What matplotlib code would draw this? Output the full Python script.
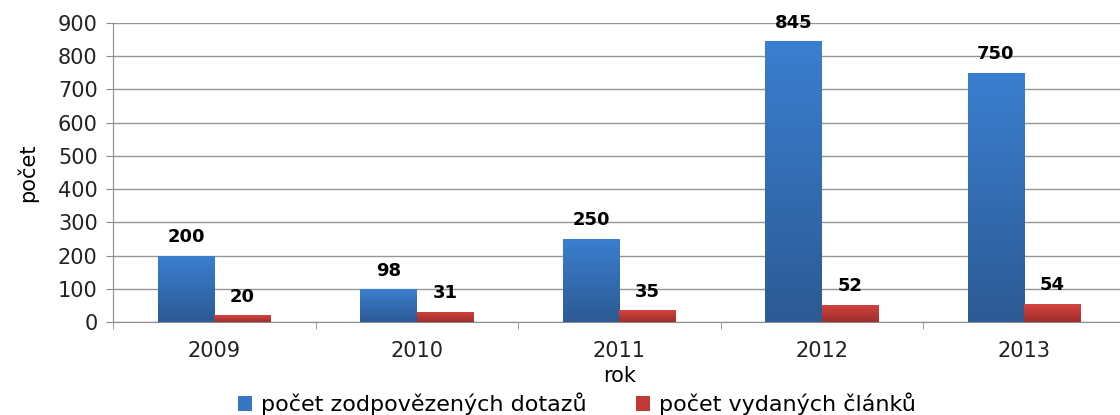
import numpy as np
import matplotlib.pyplot as plt
from matplotlib.colors import LinearSegmentedColormap
from matplotlib.patches import Patch

years = ['2009', '2010', '2011', '2012', '2013']
dotazy = [200, 98, 250, 845, 750]
clanky = [20, 31, 35, 52, 54]
legend_labels = ['počet zodpovězených dotazů', 'počet vydaných článků']

blue_cmap = LinearSegmentedColormap.from_list('b', ['#2c5a94', '#3b7fd0'])
red_cmap = LinearSegmentedColormap.from_list('r', ['#9e2f2c', '#d4433f'])

plt.rcParams['font.family'] = ['DejaVu Sans']

fig = plt.figure(figsize=(11.2, 4.15), dpi=100)
ax = fig.add_axes([113 / 1120, 93 / 415, 1012.5 / 1120, 299 / 415])

x = np.arange(len(years))
w = 0.28
grad = np.linspace(0, 1, 256).reshape(-1, 1)


def gradient_bars(xs, vals, cmap, color):
    bars = ax.bar(xs, vals, w, color=color, zorder=3)
    for b in bars:
        b.set_facecolor('none')
        x0, y0 = b.get_x(), b.get_y()
        im = ax.imshow(grad, cmap=cmap, origin='lower', aspect='auto',
                       extent=[x0, x0 + b.get_width(), y0, y0 + b.get_height()],
                       zorder=3)
        im.set_clip_path(b)
    return bars


b1 = gradient_bars(x - w / 2, dotazy, blue_cmap, '#3676c2')
b2 = gradient_bars(x + w / 2, clanky, red_cmap, '#c03b38')

for xs, vals in ((x - w / 2, dotazy), (x + w / 2, clanky)):
    for xi, v in zip(xs, vals):
        ax.annotate(str(v), (xi, v), xytext=(0, 7), textcoords='offset points',
                    ha='center', va='bottom', fontsize=13, fontweight='bold')

ax.set_xlim(-0.5, len(years) - 0.5)
ax.set_ylim(0, 900)
ax.set_yticks(range(0, 901, 100))
ax.set_xticks(x)
ax.set_xticklabels(years)
ax.set_xticks(np.arange(-0.5, len(years), 1), minor=True)
ax.tick_params(axis='x', which='major', length=0, pad=14, labelsize=15, colors='#222222')
ax.tick_params(axis='x', which='minor', length=5, color='#8c8c8c')
ax.tick_params(axis='y', length=5, color='#8c8c8c', labelsize=15, pad=6,
               labelcolor='#222222')

ax.grid(axis='y', color='#959595', linewidth=1, zorder=0)
ax.set_axisbelow(True)
for s in ('top', 'right'):
    ax.spines[s].set_visible(False)
for s in ('left', 'bottom'):
    ax.spines[s].set_color('#8c8c8c')

ax.set_xlabel('rok', fontsize=15, labelpad=3)
ax.set_ylabel('počet', fontsize=15, labelpad=14)

handles = [Patch(facecolor='#3676c2'), Patch(facecolor='#c03b38')]
fig.legend(handles, legend_labels, loc='center', bbox_to_anchor=(0.515, 0.027),
           ncol=2, frameon=False, fontsize=16, handlelength=0.65, handleheight=0.65,
           columnspacing=2.2, handletextpad=0.4, borderpad=0.1)

fig.savefig('out.png', dpi=100)
